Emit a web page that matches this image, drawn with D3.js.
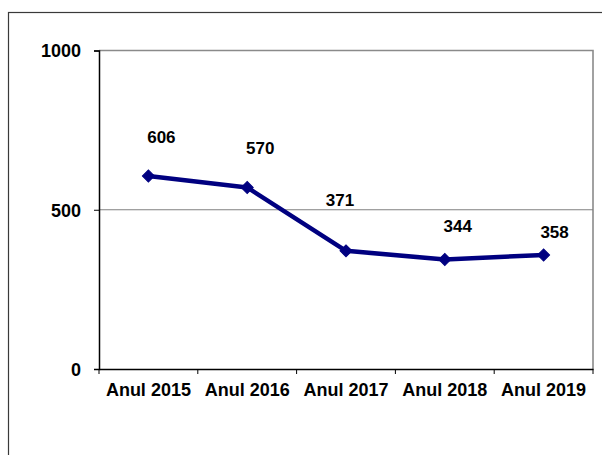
<!DOCTYPE html>
<html>
<head>
<meta charset="utf-8">
<script src="https://cdn.jsdelivr.net/npm/d3@7"></script>
<style>
  html, body { margin: 0; padding: 0; background: #fff; }
  svg { display: block; }
  text { font-family: "Liberation Sans", Arial, sans-serif; font-weight: bold; fill: #000; }
</style>
</head>
<body>
<svg id="chart" width="602" height="455"></svg>
<script>
const categories = ["Anul 2015", "Anul 2016", "Anul 2017", "Anul 2018", "Anul 2019"];
const values = [606, 570, 371, 344, 358];
const yTicks = [0, 500, 1000];

// Layout-only: manual data-label offsets (dx, dy) relative to each point
const labelShift = [[13, -39], [13, -40], [-6, -51], [13, -34], [11, -23]];

const svg = d3.select("#chart");
const plot = { left: 99, right: 593, top: 50.5, bottom: 369 };

// outer frame (extends past the right and bottom edges)
svg.append("rect")
  .attr("x", 8.5).attr("y", 12.5)
  .attr("width", 700).attr("height", 600)
  .attr("fill", "none").attr("stroke", "#3a3a3a").attr("stroke-width", 1.2);

const x = d3.scaleBand().domain(categories).range([plot.left, plot.right]).padding(0);
const y = d3.scaleLinear().domain([0, 1000]).range([plot.bottom, plot.top]);

// plot border top & right (gray)
svg.append("path")
  .attr("d", `M${plot.left},${plot.top}H${plot.right}V${plot.bottom}`)
  .attr("fill", "none").attr("stroke", "#8a8a8a").attr("stroke-width", 1.6);

// gridlines
svg.append("g").selectAll("line")
  .data(yTicks.filter(t => t > 0 && t < 1000))
  .join("line")
  .attr("x1", plot.left).attr("x2", plot.right)
  .attr("y1", d => y(d)).attr("y2", d => y(d))
  .attr("stroke", "#808080").attr("stroke-width", 1);

// y axis
const yAxis = d3.axisLeft(y).tickValues(yTicks).tickSize(5).tickPadding(13).tickFormat(d3.format("d"));
const gy = svg.append("g").attr("transform", `translate(${plot.left},0)`).call(yAxis);
gy.select(".domain").attr("stroke", "#000").attr("stroke-width", 1.5);
gy.selectAll(".tick line").attr("stroke", "#000");
gy.selectAll(".tick text").style("font-size", "18px").attr("dy", "0.36em")
  .style("font-family", "'Liberation Sans', Arial, sans-serif").style("font-weight", "bold");

// x axis
const xAxis = d3.axisBottom(x).tickSize(0).tickPadding(14);
const gx = svg.append("g").attr("transform", `translate(0,${plot.bottom})`).call(xAxis);
gx.select(".domain").attr("stroke", "#000").attr("stroke-width", 1.5);
gx.selectAll(".tick text").style("font-size", "18px")
  .style("font-family", "'Liberation Sans', Arial, sans-serif").style("font-weight", "bold");
// category separator ticks
gx.append("g").selectAll("line")
  .data(categories.map(c => x(c) + x.bandwidth()).concat([x(categories[0])]))
  .join("line")
  .attr("x1", d => d).attr("x2", d => d)
  .attr("y1", 0).attr("y2", 5)
  .attr("stroke", "#000").attr("stroke-width", 1);

const cx = (d, i) => x(categories[i]) + x.bandwidth() / 2;

// line
const line = d3.line().x((d, i) => cx(d, i)).y(d => y(d));
svg.append("path")
  .datum(values)
  .attr("d", line)
  .attr("fill", "none").attr("stroke", "#000080").attr("stroke-width", 4.5)
  .attr("stroke-linejoin", "round");

// markers
svg.append("g").selectAll("path")
  .data(values)
  .join("path")
  .attr("d", d3.symbol(d3.symbolSquare, 72))
  .attr("transform", (d, i) => `translate(${cx(d, i)},${y(d)}) rotate(45)`)
  .attr("fill", "#000080").attr("stroke", "#000080");

// data labels
svg.append("g").selectAll("text")
  .data(values)
  .join("text")
  .attr("x", (d, i) => cx(d, i) + labelShift[i][0])
  .attr("y", (d, i) => y(d) + labelShift[i][1])
  .attr("text-anchor", "middle")
  .attr("dy", "0.36em")
  .style("font-size", "17px")
  .text(d => d);
</script>
</body>
</html>
